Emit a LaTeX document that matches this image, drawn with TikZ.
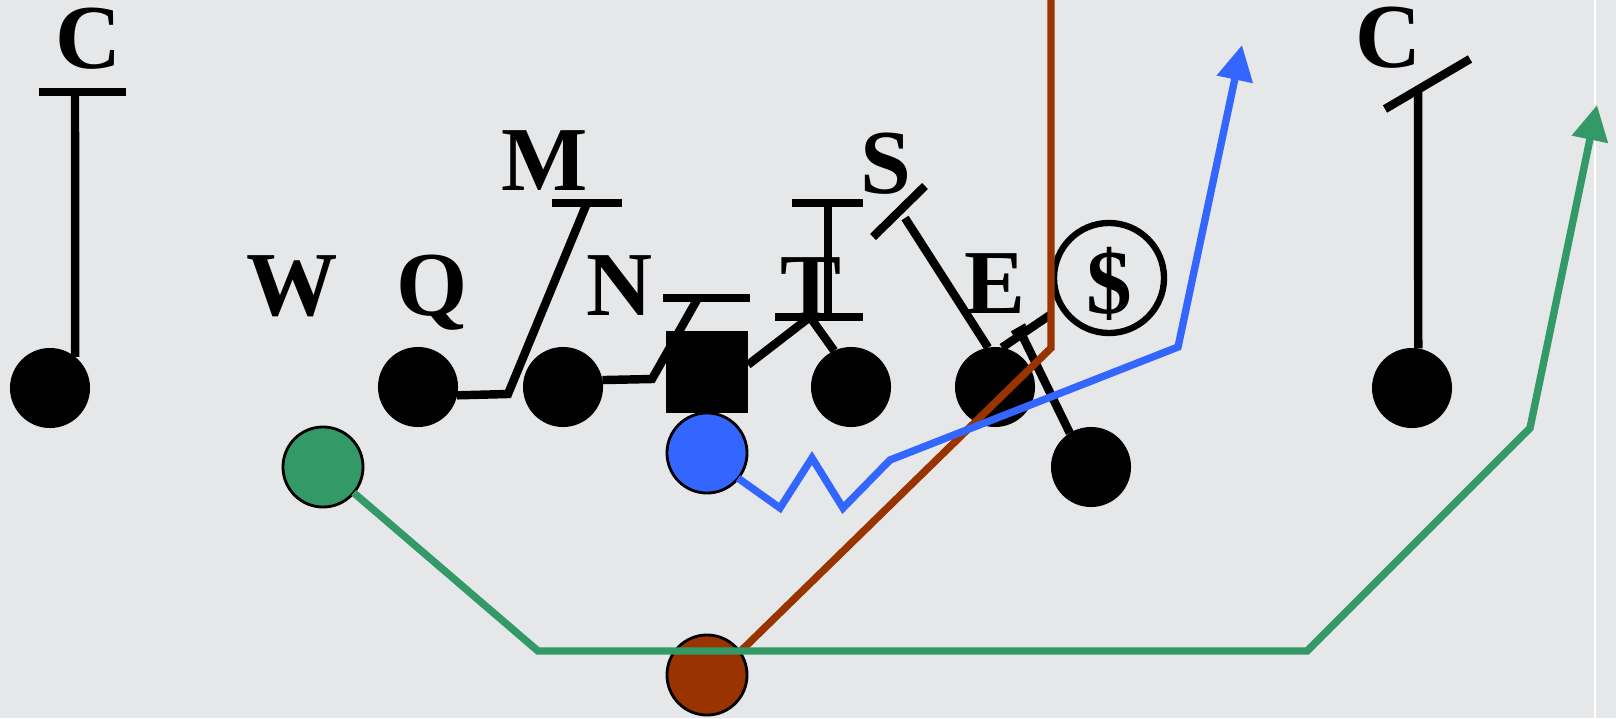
\documentclass[tikz,border=0pt]{standalone}
\usepackage{fontspec}
\setmainfont{Liberation Serif}
\newfontfamily\lblfont{Liberation Serif Bold}
\usetikzlibrary{arrows.meta}
\definecolor{bg}{HTML}{E6E7E9}
\definecolor{pgreen}{HTML}{339966}
\definecolor{pblue}{HTML}{3366FF}
\definecolor{porange}{HTML}{993300}
\tikzset{
  player/.style={circle,fill=black,minimum size=0.8cm,inner sep=0pt,outer sep=0pt},
  cplayer/.style={circle,draw=black,line width=0.8pt,minimum size=0.8cm,inner sep=0pt,outer sep=0pt},
  lbl/.style={font=\lblfont\fontsize{26pt}{30pt}\selectfont,anchor=base,inner sep=0pt},
  blk/.style={line width=2.4pt,black},
  route/.style={line width=2.1pt},
  tiparrow/.style={-{Triangle[length=10pt,width=10pt]}}
}
\begin{document}
\begin{tikzpicture}[x=0.01cm,y=-0.01cm]
\fill[bg] (0,0) rectangle (1616,718);
\useasboundingbox (0,0) rectangle (1616,718);
\draw[white,line width=0.6pt] (1595,0) -- (1595,718);

% players
\node[player] (LC) at (50,388) {};
\node[player] (Qp) at (418,387) {};
\node[player] (Np) at (563,387) {};
\node[fill=black,minimum size=0.82cm,inner sep=0pt,outer sep=0pt] (SQ) at (707,372) {};
\node[player] (Tp) at (851,387) {};
\node[player] (Ep) at (995,387) {};
\node[player] (TE) at (1091,467) {};
\node[player] (RC) at (1412,388) {};
\node[cplayer,fill=pblue] (BL) at (707,453) {};
\node[cplayer,fill=pgreen] (GR) at (323,467) {};
\node[cplayer,fill=porange] (OR) at (707,675) {};
\node[circle,draw=black,line width=1.8pt,minimum size=1.1cm,inner sep=0pt] (DS) at (1109,278) {};

% labels
\node[lbl] (lC1) at (89,68) {C};
\node[lbl] (lW) at (292,315) {W};
\node[lbl] (lQ) at (432,315) {Q};
\node[lbl] (lM) at (545,190) {M};
\node[lbl] (lN) at (620,315) {N};
\node[lbl] (lT) at (811,317) {T};
\node[lbl] (lS) at (886,193) {S};
\node[lbl] (lE) at (995,313) {E};
\node[lbl] (lD) at (1109,313) {\$};
\node[lbl] (lC2) at (1388,67) {C};

% coordinates
\coordinate (cbL) at (39,92);   \coordinate (cbR) at (126,92);  \coordinate (cbM) at (75,92);
\coordinate (qk) at (508,394);  \coordinate (mt) at (587,203);
\coordinate (mbL) at (552,203); \coordinate (mbR) at (622,203);
\coordinate (nk) at (652,379);  \coordinate (nt) at (698,298);
\coordinate (nbL) at (663,298); \coordinate (nbR) at (750,298);
\coordinate (tt) at (810,317);
\coordinate (tbL) at (775,317); \coordinate (tbR) at (863,317);
\coordinate (tuL) at (792,203); \coordinate (tuR) at (863,203);
\coordinate (tuM) at (828,203); \coordinate (tlM) at (828,317);
\coordinate (sbA) at (873,237); \coordinate (sbB) at (925,186); \coordinate (st) at (905,218);
\coordinate (ek) at (1050,315);
\coordinate (tek) at (1020,331); \coordinate (tkA) at (1013,335); \coordinate (tkB) at (1027,327);
\coordinate (rbA) at (1385,109); \coordinate (rbB) at (1470,59); \coordinate (rbM) at (1418,90);

% blocking lines
\draw[blk] (cbL) -- (cbR);
\draw[blk] (cbM) -- (LC.51);
\draw[blk] (Qp.-12) -- (qk) -- (mt);
\draw[blk] (mbL) -- (mbR);
\draw[blk] (Np.10) -- (nk) -- (nt);
\draw[blk] (nbL) -- (nbR);
\draw[blk] (SQ.10) -- (tt) -- (Tp.115);
\draw[blk] (tbL) -- (tbR);
\draw[blk] (tuL) -- (tuR);
\draw[blk] (tuM) -- (tlM);
\draw[blk] (sbA) -- (sbB);
\draw[blk] (st) -- (Ep.100);
\draw[blk] (Ep.80) -- (ek);
\draw[blk] (TE.122) -- (tek);
\draw[blk] (tkA) -- (tkB);
\draw[blk] (rbA) -- (rbB);
\draw[blk] (rbM) -- (RC.81);

% orange route
\coordinate (o0) at (1051,-10); \coordinate (o1) at (1051,348);
\draw[route,porange] (o0) -- (o1) -- (OR.35);

% green route
\coordinate (g1) at (538,651); \coordinate (g2) at (1307,651);
\coordinate (g3) at (1530,428); \coordinate (g4) at (1597,105);
\draw[route,pgreen,tiparrow] (GR.-40) -- (g1) -- (g2) -- (g3) -- (g4);

% blue route
\coordinate (b1) at (780,508); \coordinate (b2) at (812,458);
\coordinate (b3) at (843,508); \coordinate (b4) at (890,460);
\coordinate (b5) at (1178,347); \coordinate (b6) at (1242,45);
\draw[route,pblue,tiparrow] (BL.-39) -- (b1) -- (b2) -- (b3) -- (b4) -- (b5) -- (b6);
\end{tikzpicture}
\end{document}
